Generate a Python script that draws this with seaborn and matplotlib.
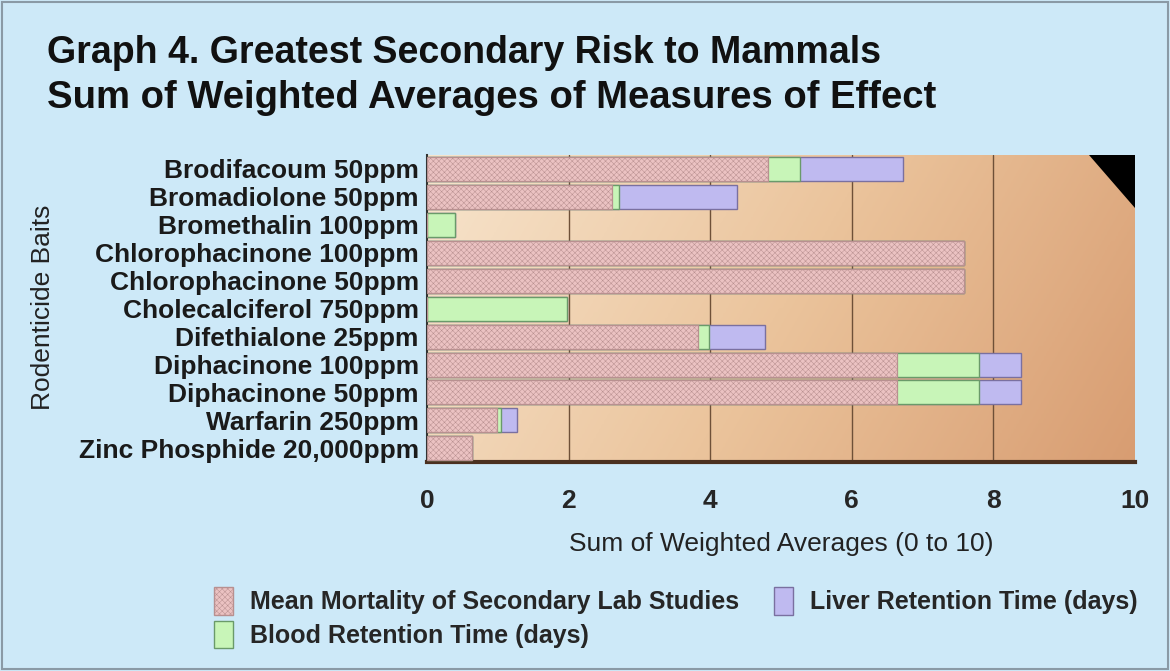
import numpy as np
import pandas as pd
import matplotlib
matplotlib.use("Agg")
import matplotlib.pyplot as plt
import seaborn as sns
from matplotlib.patches import Patch, Polygon
from matplotlib.colors import LinearSegmentedColormap

baits = ["Brodifacoum 50ppm", "Bromadiolone 50ppm", "Bromethalin 100ppm",
         "Chlorophacinone 100ppm", "Chlorophacinone 50ppm", "Cholecalciferol 750ppm",
         "Difethialone 25ppm", "Diphacinone 100ppm", "Diphacinone 50ppm",
         "Warfarin 250ppm", "Zinc Phosphide 20,000ppm"]
mortality = [4.82, 2.61, 0.0, 7.58, 7.58, 0.0, 3.83, 6.64, 6.64, 0.99, 0.64]
blood = [0.45, 0.10, 0.40, 0.0, 0.0, 1.98, 0.15, 1.16, 1.16, 0.06, 0.0]
liver = [1.45, 1.67, 0.0, 0.0, 0.0, 0.0, 0.79, 0.59, 0.59, 0.22, 0.0]
series_names = ["Mean Mortality of Secondary Lab Studies", "Blood Retention Time (days)",
                "Liver Retention Time (days)"]
xticks = [0, 2, 4, 6, 8, 10]

df = pd.DataFrame({"bait": baits, "mort": mortality, "blood": blood, "liver": liver})
df["c1"] = df["mort"]
df["c2"] = df["mort"] + df["blood"]
df["c3"] = df["c2"] + df["liver"]

sns.set_theme(style="white")
plt.rcParams["font.family"] = ["Liberation Sans", "DejaVu Sans"]
plt.rcParams["hatch.linewidth"] = 0.35

bg = "#cde9f8"
fig = plt.figure(figsize=(11.7, 6.71), dpi=100, facecolor=bg)
ax = fig.add_axes([0.365, 0.311, 0.605, 0.458])

# gradient background of plot area (diagonal, light top-left to darker bottom-right)
gx = np.linspace(0, 1, 256)
gy = np.linspace(0, 1, 64)
G = 0.8 * gx[None, :] + 0.2 * gy[:, None]
cmap = LinearSegmentedColormap.from_list("peach", ["#f7e4cc", "#ebc49c", "#d89d72"])
ax.imshow(G, cmap=cmap, aspect="auto", extent=[0, 10, 10.5, -0.5], zorder=0)

for xv in [2, 4, 6, 8]:
    ax.axvline(xv, color="#6e5038", lw=1.0, zorder=1)

pink, green, purple = "#ebc2c2", "#c8f5b8", "#bfbaf0"
w = 0.86
sns.barplot(data=df, y="bait", x="c3", orient="h", color=purple, width=w,
            edgecolor="#7a70a0", linewidth=1.0, saturation=1, ax=ax, zorder=2)
sns.barplot(data=df, y="bait", x="c2", orient="h", color=green, width=w,
            edgecolor="#6a9a6a", linewidth=1.0, saturation=1, ax=ax, zorder=3)
n_before = len(ax.patches)
sns.barplot(data=df, y="bait", x="c1", orient="h", color=pink, width=w,
            edgecolor="#b89090", linewidth=0.9, saturation=1, ax=ax, zorder=4)
for p in ax.patches[n_before:]:
    p.set_hatch("xxxxxx")

# corner triangle decoration
ax.add_patch(Polygon([(9.35, -0.5), (10, -0.5), (10, 1.4)], closed=True,
                     facecolor="black", edgecolor="none", zorder=5))

ax.set_xlim(0, 10)
ax.set_ylim(10.5, -0.5)
ax.set_xticks(xticks)
ax.set_xticklabels([str(t) for t in xticks], fontsize=19, fontweight="bold")
ax.tick_params(axis="x", length=0, pad=19)
ax.tick_params(axis="y", length=0, pad=6)
for lbl in ax.get_yticklabels():
    lbl.set_fontsize(19)
    lbl.set_fontweight("bold")
    lbl.set_color("#1a1a1a")
ax.set_xlabel("Sum of Weighted Averages (0 to 10)", fontsize=19, color="#222222", labelpad=14)
ax.set_ylabel("")
fig.text(0.037, 0.542, "Rodenticide Baits", rotation=90, fontsize=19, color="#222222",
         ha="center", va="center")

for s in ["top", "right"]:
    ax.spines[s].set_visible(False)
ax.spines["left"].set_color("#333333")
ax.spines["left"].set_linewidth(1.5)
ax.spines["bottom"].set_color("#4a3020")
ax.spines["bottom"].set_linewidth(3)

fig.text(0.040, 0.921, "Graph 4. Greatest Secondary Risk to Mammals", fontsize=27,
         fontweight="bold", color="#111111", va="center")
fig.text(0.040, 0.854, "Sum of Weighted Averages of Measures of Effect", fontsize=27.5,
         fontweight="bold", color="#111111", va="center")

handles = [Patch(facecolor=pink, edgecolor="#b89090", hatch="xxxxxx"),
           Patch(facecolor=green, edgecolor="#6a9a6a"),
           Patch(facecolor=purple, edgecolor="#7a70a0")]
leg = fig.legend(handles, series_names, loc="upper left", bbox_to_anchor=(0.1635, 0.158),
                 ncol=2, frameon=False, prop={"size": 18, "weight": "bold"},
                 handlelength=0.75, handleheight=1.3, handletextpad=0.7,
                 columnspacing=1.4, labelspacing=0.25)

# figure border
fig.patches.append(plt.Rectangle((0.002, 0.003), 0.996, 0.994, transform=fig.transFigure,
                                 fill=False, edgecolor="#8a9aa6", lw=1.5))

fig.savefig("out.png", dpi=100, facecolor=bg)
